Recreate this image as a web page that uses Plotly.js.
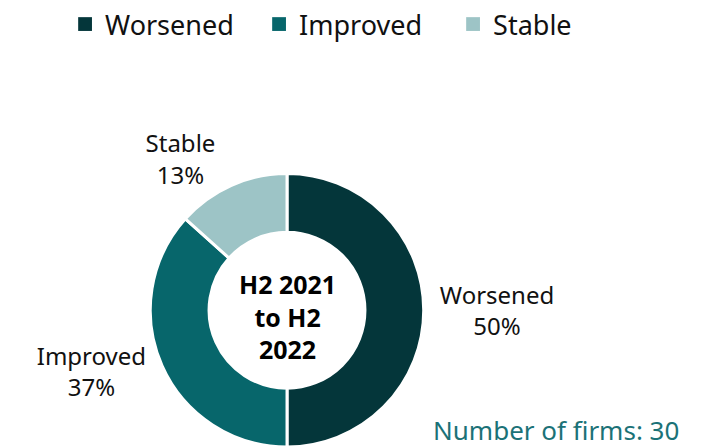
<!DOCTYPE html>
<html>
<head>
<meta charset="utf-8">
<script src="https://cdn.plot.ly/plotly-3.0.1.min.js"></script>
<style>
html,body{margin:0;padding:0;background:#fff;}
#chart{width:710px;height:447px;}
path.legendpie{transform:translate(20px,0px) scale(1.15);stroke-width:0 !important;}
</style>
</head>
<body>
<div id="chart"></div>
<script>
const categories = ["Worsened", "Improved", "Stable"];
const firmCounts = [15, 11, 4];
const colors = ["#04363a", "#07666b", "#9dc4c6"];
const centerLabel = "H2 2021<br>to H2<br>2022";
const noteText = "Number of firms: 30";

const trace = {
  type: "pie",
  labels: categories,
  values: firmCounts,
  hole: 0.57,
  sort: false,
  direction: "clockwise",
  rotation: 0,
  marker: {colors: colors, line: {color: "#ffffff", width: 3}},
  textposition: "outside",
  texttemplate: "%{label}<br>%{percent:.0%}",
  outsidetextfont: {family: "Noto Sans, Open Sans, sans-serif", size: 24, color: "#111111"},
  automargin: false,
  domain: {x: [0.2022, 0.6063], y: [0, 0.636]},
  showlegend: true
};

const layout = {
  width: 710, height: 447,
  margin: {l: 0, r: 0, t: 0, b: 0},
  paper_bgcolor: "#ffffff",
  font: {family: "Noto Sans, Open Sans, sans-serif", color: "#111111"},
  showlegend: true,
  legend: {orientation: "h", x: 0.5015, xanchor: "center", y: 1.04, yanchor: "top",
           font: {size: 27, color: "#111111"}, traceorder: "normal",
           entrywidth: 149, entrywidthmode: "pixels"},
  annotations: [
    {text: "<b>" + centerLabel + "</b>", x: 0.4045, y: 0.3043, xref: "paper", yref: "paper",
     xanchor: "center", yanchor: "middle",
     showarrow: false, font: {family: "Open Sans, Noto Sans, sans-serif", size: 25, color: "#000000"}, align: "center"},
    {text: noteText, x: 0.959, y: 0.04, xref: "paper", yref: "paper", xanchor: "right", yanchor: "middle",
     showarrow: false, font: {size: 26, color: "#1b7277"}}
  ]
};

Plotly.newPlot("chart", [trace], layout, {displayModeBar: false, staticPlot: true});
</script>
</body>
</html>
